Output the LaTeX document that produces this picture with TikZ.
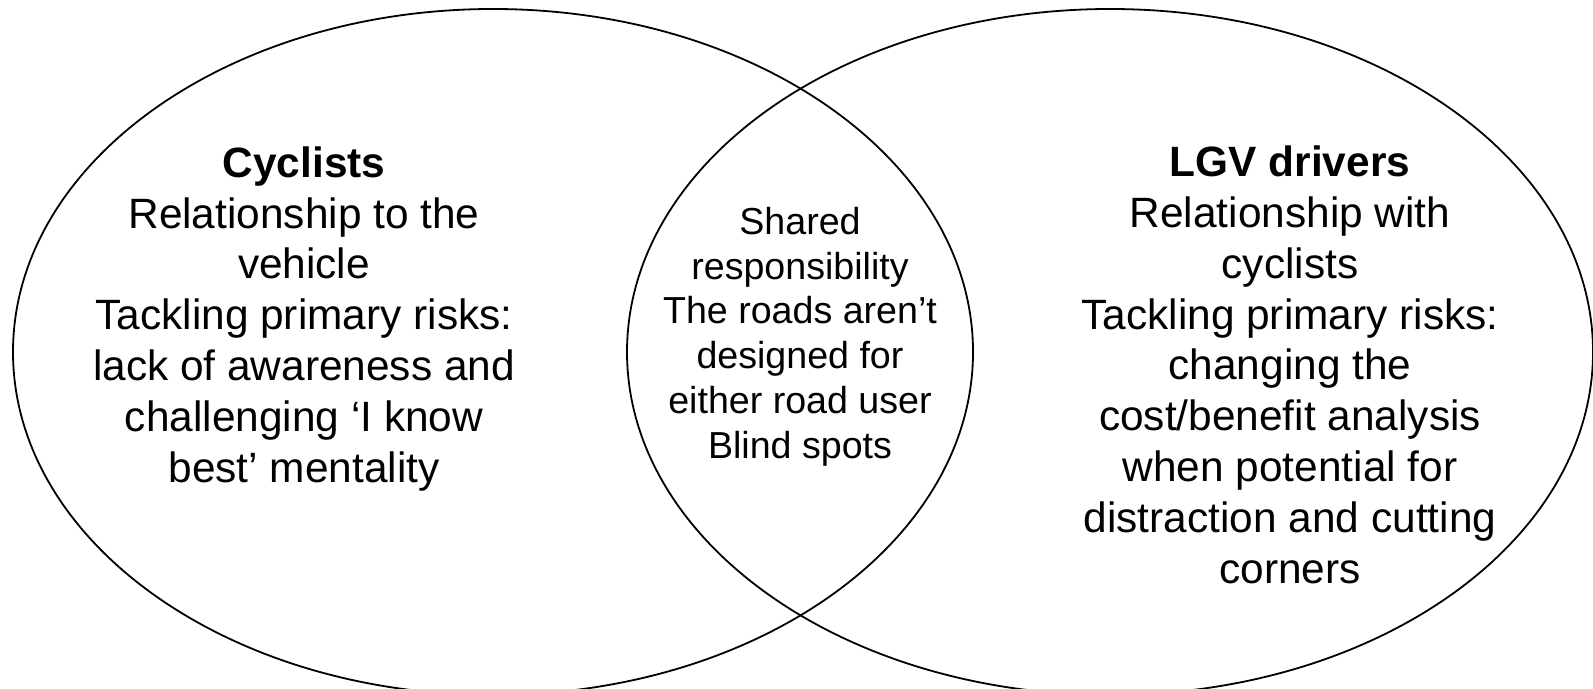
\documentclass[tikz,border=0pt]{standalone}
\usepackage{fontspec}
\setmainfont{Liberation Sans}
\usetikzlibrary{shapes.geometric}
\tikzset{
  setshape/.style={draw=black, line width=0.9pt, ellipse, inner sep=0pt, outer sep=0pt},
  sidetext/.style={align=center, inner sep=0pt, font=\fontsize{21.2pt}{25.4pt}\selectfont},
  midtext/.style={align=center, inner sep=0pt, font=\fontsize{18.8pt}{22.35pt}\selectfont}
}
\begin{document}
\begin{tikzpicture}[x=0.5pt,y=-0.5pt]
\useasboundingbox (0,0) rectangle (1593,689);
\node[setshape, minimum width=480pt, minimum height=343pt] (cyc) at (493,352) {};
\node[setshape, minimum width=483pt, minimum height=343pt] (lgv) at (1110,352) {};
\node[sidetext, anchor=base] (ctext) at (304,482) {\textbf{Cyclists}\\Relationship to the\\vehicle\\Tackling primary risks:\\lack of awareness and\\challenging ‘I know\\best’ mentality};
\node[sidetext, anchor=base] (ltext) at (1290,583) {\textbf{LGV drivers}\\Relationship with\\cyclists\\Tackling primary risks:\\changing the\\cost/benefit analysis\\when potential for\\distraction and cutting\\corners};
\node[midtext, anchor=base] (mtext) at (800,458) {Shared\\responsibility\\The roads aren’t\\designed for\\either road user\\Blind spots};
\end{tikzpicture}
\end{document}
